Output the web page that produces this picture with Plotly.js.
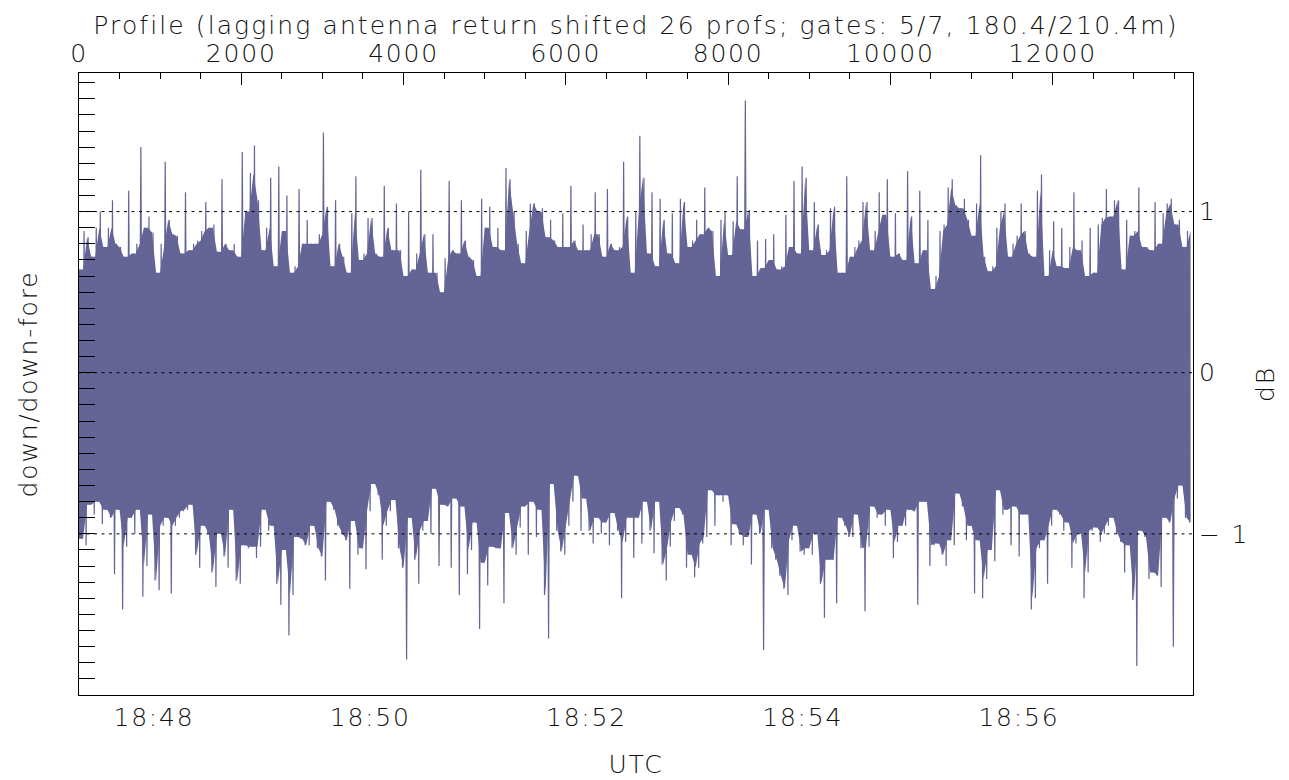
<!DOCTYPE html>
<html>
<head>
<meta charset="utf-8">
<script src="https://cdn.plot.ly/plotly-3.0.1.min.js"></script>
<style>
html,body{margin:0;padding:0;background:#fff;}
#chart{width:1289px;height:780px;}
#chart text{letter-spacing:1.8px;}
#chart .gtitle{letter-spacing:2.1px;}
</style>
</head>
<body>
<div id="chart"></div>
<script>
// Profiles per bin (each bin keeps its maximum and minimum)
const binSize = 50;
// Upper extreme (dB) of each 50-profile bin, from profile 0 to 13700
const upperDB = [
0.64,0.88,0.84,0.72,0.9,1.0,0.78,0.9,1.07,0.8,0.78,0.72,1.13,0.74,0.8,1.40,0.9,0.97,0.87,0.62,0.8,1.31,0.95,0.86,0.85,0.74,1.12,0.76,0.8,0.82,0.88,1.06,0.9,0.92,0.75,1.2,0.8,
0.76,0.8,0.72,1.37,1.0,1.24,1.41,1.07,0.76,0.9,1.21,0.66,1.28,0.88,1.1,0.62,0.66,1.14,0.8,0.95,0.8,0.8,0.86,1.49,1.03,0.66,1.07,0.8,0.72,0.62,0.99,1.22,0.7,0.74,0.96,
0.96,0.74,0.72,1.16,0.9,0.76,1.05,0.76,0.6,1.0,0.64,0.74,1.26,0.86,0.62,0.86,0.62,0.5,0.71,1.19,0.76,0.74,1.07,0.82,0.72,0.7,0.6,1.08,0.9,1.03,0.78,0.9,0.76,1.27,1.2,1.0,0.8,0.68,0.88,1.05,1.05,1.0,1.02,0.84,0.95,0.82,0.78,0.99,0.78,1.16,0.82,0.76,0.92,0.76,0.86,1.12,0.86,0.72,1.14,
0.8,0.76,0.78,1.31,0.97,0.62,1.0,1.47,1.21,0.74,1.12,0.66,1.08,0.95,0.74,0.99,0.68,1.08,1.06,0.78,0.82,0.95,0.86,1.15,0.9,0.88,0.6,0.95,1.0,0.73,0.94,1.22,0.89,1.69,1.01,0.6,0.82,0.65,0.83,0.7,0.86,0.64,0.66,0.98,0.78,1.19,0.74,1.28,1.21,0.76,1.06,0.92,0.73,0.76,1.02,1.03,0.62,0.62,1.22,0.72,0.78,0.82,1.06,1.06,0.76,0.88,1.12,0.98,1.2,0.72,0.99,0.74,
0.7,1.25,0.97,0.68,1.13,0.76,0.95,0.52,0.6,0.88,0.92,1.15,1.2,1.04,1.02,1.08,0.95,0.85,1.05,1.35,0.72,0.63,0.66,0.9,1.0,1.05,0.72,0.8,0.85,1.05,0.88,0.74,0.72,1.13,1.23,0.6,0.76,0.94,0.66,0.9,0.65,0.78,1.12,0.76,0.82,0.6,0.9,0.62,0.92,0.96,1.14,0.97,1.07,1.07,0.64,0.95,0.85,0.88,1.15,0.78,0.78,0.76,1.06,0.8,0.99,1.05,1.08,0.92,0.95,0.78,0.88
];
// Lower extreme (dB) of each 50-profile bin
const lowerDB = [
-1.03,-1.07,-0.82,-0.88,-0.8,-0.94,-0.85,-0.9,-1.25,-0.85,-1.47,-1.08,-0.9,-1.0,-0.85,-1.39,-1.2,-0.88,-1.29,-1.35,-0.95,-0.9,-1.37,-0.95,-0.9,-0.86,-0.85,-0.82,-1.13,-1.21,-0.95,-1.0,-1.24,-1.33,-1.0,-1.14,-1.21,
-0.85,-1.29,-1.31,-1.07,-1.09,-1.08,-1.15,-1.08,-0.85,-0.98,-0.95,-1.31,-1.44,-1.1,-1.63,-1.38,-1.02,-1.03,-1.07,-1.07,-0.95,-1.09,-1.14,-1.29,-0.8,-0.85,-0.95,-1.0,-1.04,-1.34,-0.92,-1.13,-1.09,-1.22,-0.86,
-0.69,-0.76,-1.16,-0.95,-0.86,-0.79,-1.09,-1.21,-1.78,-0.9,-1.16,-1.31,-0.98,-0.92,-1.0,-0.72,-1.2,-0.82,-0.83,-1.21,-0.78,-1.38,-0.83,-1.25,-1.1,-0.93,-1.59,-1.18,-1.32,-1.08,-1.09,-1.09,-1.43,-0.87,-1.09,-1.13,-0.96,-0.83,-1.13,-0.8,-1.02,-0.85,-1.38,-1.65,-0.69,-0.98,-1.11,-1.13,-0.95,-0.8,-0.64,-0.98,-0.78,-0.98,-1.06,-0.9,-1.0,-0.93,-1.07,
-0.87,-0.98,-1.4,-1.05,-0.9,-1.15,-0.9,-1.06,-0.8,-0.98,-1.12,-0.8,-1.19,-1.29,-1.08,-0.92,-0.84,-0.88,-1.21,-1.13,-1.27,-1.21,-1.06,-1.02,-0.73,-0.95,-0.76,-0.8,-0.76,-1.07,-0.94,-1.0,-1.07,-1.02,-1.19,-0.88,-1.0,-1.72,-0.85,-1.09,-1.16,-1.26,-1.34,-1.38,-1.04,-0.95,-1.11,-1.13,-1.09,-1.13,-1.0,-1.31,-1.52,-1.16,-1.16,-1.43,-0.9,-0.95,-1.02,-1.02,-0.88,-1.09,-1.48,-1.08,-0.83,-0.9,-0.88,-0.95,-0.85,-1.15,-1.05,-0.95,
-0.95,-0.85,-0.86,-1.44,-0.8,-0.8,-1.2,-1.07,-1.06,-1.13,-1.2,-1.04,-1.07,-0.75,-0.83,-1.04,-0.95,-1.37,-1.04,-1.4,-1.28,-1.1,-1.17,-0.73,-0.88,-0.85,-1.07,-0.83,-1.14,-0.88,-0.88,-1.47,-1.4,-1.09,-1.04,-1.31,-0.95,-0.85,-0.88,-0.98,-0.93,-1.21,-1.06,-1.0,-1.4,-1.24,-0.98,-0.96,-1.05,-1.0,-0.95,-0.9,-1.0,-1.05,-1.24,-1.07,-1.41,-1.82,-0.98,-1.02,-1.28,-1.24,-1.26,-1.33,-0.9,-0.93,-1.7,-0.78,-0.7,-0.9,-0.93
];
// Axis extents
const profileRange = [0, 13730];
const timeRange = ['2024-01-01 18:47:18.4', '2024-01-01 18:57:36.6'];
const dbRange = [-2.0, 1.86];
const refLevels = [-1, 0, 1];
const dbTickVals = [-1, 0, 1];
const dbTickText = ['\u2212 1', '0', '1'];

const COLOR = '#646496';
const n = upperDB.length;
// zig-zag through each bin's max and min
const xs = [], ys = [];
for (let k = 0; k < n; k++) {
  xs.push(k * binSize + binSize * 0.25, k * binSize + binSize * 0.75);
  ys.push(upperDB[k], lowerDB[k]);
}
// dense core: at each bin boundary, the smaller excursion of the two bins that meet there
const coreX = [0], coreTop = [upperDB[0]], coreBot = [lowerDB[0]];
for (let k = 0; k < n - 1; k++) {
  coreX.push((k + 1) * binSize);
  coreTop.push(Math.min(upperDB[k], upperDB[k + 1]));
  coreBot.push(Math.max(lowerDB[k], lowerDB[k + 1]));
}
coreX.push(n * binSize); coreTop.push(upperDB[n - 1]); coreBot.push(lowerDB[n - 1]);

const FONT = {family: 'DejaVu Sans, sans-serif', size: 25, color: '#111', weight: 200};

const data = [
  {type: 'scatter', mode: 'lines', x: coreX, y: coreTop, xaxis: 'x2', yaxis: 'y',
   line: {color: COLOR, width: 0}, hoverinfo: 'skip', showlegend: false},
  {type: 'scatter', mode: 'lines', x: coreX, y: coreBot, xaxis: 'x2', yaxis: 'y',
   line: {color: COLOR, width: 0}, fill: 'tonexty', fillcolor: COLOR, hoverinfo: 'skip', showlegend: false},
  {type: 'scatter', mode: 'lines', x: xs, y: ys, xaxis: 'x2', yaxis: 'y',
   line: {color: COLOR, width: 1.2}, hoverinfo: 'skip', showlegend: false},
  // invisible trace that brings the UTC axis and the right dB axis into being
  {type: 'scatter', mode: 'markers', x: timeRange, y: dbRange, xaxis: 'x', yaxis: 'y2',
   marker: {opacity: 0}, hoverinfo: 'skip', showlegend: false}
];

const shapes = refLevels.map(v => ({
  type: 'line', xref: 'paper', x0: 0, x1: 1, yref: 'y', y0: v, y1: v,
  line: {color: '#000', width: 1, dash: '3px,4.5px'}, layer: 'above'
}));

const layout = {
  width: 1289, height: 780,
  margin: {l: 79, r: 96, t: 73, b: 85, autoexpand: false},
  paper_bgcolor: '#fff', plot_bgcolor: '#fff',
  font: FONT,
  showlegend: false,
  shapes: shapes,
  title: {text: 'Profile (lagging antenna return shifted 26 profs; gates: 5/7, 180.4/210.4m)',
          font: FONT, xref: 'paper', x: 0.5, xanchor: 'center', yref: 'container', y: 0.967, yanchor: 'middle'},
  xaxis: {
    type: 'date', range: timeRange, side: 'bottom', anchor: 'y',
    tickformat: '%H:%M', tick0: '2024-01-01 18:48:00', dtick: 120000,
    ticks: 'inside', ticklen: 19, tickwidth: 1, tickcolor: '#000',
    minor: {dtick: 30000, tick0: '2024-01-01 18:48:00', ticks: 'inside', ticklen: 9, tickwidth: 1, tickcolor: '#000'},
    showline: true, linecolor: '#000', linewidth: 1, showgrid: false, zeroline: false,
    tickfont: FONT, title: {text: 'UTC', font: FONT, standoff: 24}, automargin: false
  },
  xaxis2: {
    overlaying: 'x', side: 'top', anchor: 'y', range: profileRange,
    tick0: 0, dtick: 2000, ticks: 'inside', ticklen: 12, tickwidth: 1, tickcolor: '#000',
    minor: {dtick: 500, ticks: 'inside', ticklen: 6, tickwidth: 1, tickcolor: '#000'},
    showline: true, linecolor: '#000', linewidth: 1, showgrid: false, zeroline: false,
    tickformat: 'd',
    tickfont: FONT, automargin: false
  },
  yaxis: {
    range: dbRange, side: 'left', anchor: 'x',
    tick0: 0, dtick: 0.1, ticks: 'inside', ticklen: 16, tickwidth: 1, tickcolor: '#000',
    showticklabels: false,
    showline: true, linecolor: '#000', linewidth: 1, showgrid: false, zeroline: false,
    title: {text: 'down/down-fore', font: FONT, standoff: 33}, automargin: false
  },
  yaxis2: {
    overlaying: 'y', side: 'right', anchor: 'x', range: dbRange,
    tickmode: 'array', tickvals: dbTickVals, ticktext: dbTickText,
    ticks: 'inside', ticklen: 11, tickwidth: 1, tickcolor: '#000',
    minor: {dtick: 0.1, tick0: 0, ticks: 'inside', ticklen: 11, tickwidth: 1, tickcolor: '#000'},
    showline: true, linecolor: '#000', linewidth: 1, showgrid: false, zeroline: false,
    tickfont: FONT, title: {text: 'dB', font: FONT, standoff: 13}, automargin: false
  }
};

Plotly.newPlot('chart', data, layout, {displayModeBar: false, staticPlot: true});
</script>
</body>
</html>
